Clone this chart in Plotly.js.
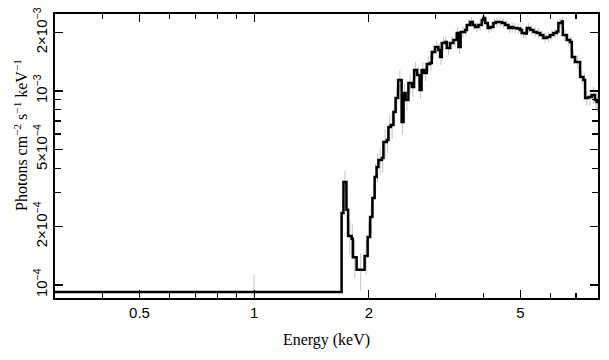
<!DOCTYPE html>
<html>
<head>
<meta charset="utf-8">
<script src="https://cdn.plot.ly/plotly-3.0.1.min.js"></script>
<style>html,body{margin:0;padding:0;background:#fff;}#chart{width:609px;height:360px;}</style>
</head>
<body>
<div id="chart"></div>
<script>
// Bin edges (keV)
var binEdges = [0.30, 1.697, 1.716, 1.747, 1.765, 1.803, 1.816, 1.858, 1.950, 1.986, 2.016, 2.044, 2.072, 2.097, 2.120, 2.164, 2.185, 2.230, 2.252, 2.285, 2.321, 2.352, 2.388, 2.439, 2.468, 2.498, 2.541, 2.594, 2.630, 2.678, 2.719, 2.752, 2.794, 2.840, 2.897, 2.927, 2.986, 3.046, 3.078, 3.109, 3.172, 3.205, 3.269, 3.335, 3.405, 3.438, 3.484, 3.580, 3.617, 3.690, 3.750, 3.803, 3.880, 3.960, 3.999, 4.040, 4.106, 4.164, 4.248, 4.310, 4.378, 4.469, 4.559, 4.651, 4.728, 4.794, 4.893, 4.992, 5.043, 5.145, 5.198, 5.303, 5.410, 5.522, 5.634, 5.747, 5.866, 5.985, 6.105, 6.232, 6.293, 6.423, 6.462, 6.620, 6.754, 6.824, 6.961, 7.175, 7.320, 7.395, 7.544, 7.696, 7.851, 7.933, 7.995];
// Flux per bin (photons cm^-2 s^-1 keV^-1)
var flux = [9.20e-5, 2.35e-4, 3.40e-4, 2.44e-4, 1.79e-4, 1.73e-4, 1.39e-4, 1.20e-4, 1.41e-4, 1.77e-4,
  2.24e-4, 2.81e-4, 3.60e-4, 4.06e-4, 4.41e-4, 4.51e-4, 5.46e-4, 5.59e-4, 6.52e-4, 6.68e-4,
  7.79e-4, 9.20e-4, 1.139e-3, 6.92e-4, 9.77e-4, 8.99e-4, 1.100e-3, 1.049e-3, 1.283e-3, 1.209e-3,
  1.012e-3, 1.283e-3, 1.238e-3, 1.378e-3, 1.394e-3, 1.589e-3, 1.686e-3, 1.627e-3, 1.497e-3, 1.768e-3,
  1.789e-3, 1.666e-3, 1.768e-3, 1.832e-3, 1.991e-3, 1.686e-3, 2.014e-3, 2.063e-3, 2.189e-3, 2.268e-3,
  2.189e-3, 2.138e-3, 2.189e-3, 2.323e-3, 2.378e-3, 2.241e-3, 2.113e-3, 2.138e-3, 2.241e-3, 2.268e-3,
  2.268e-3, 2.241e-3, 2.189e-3, 2.113e-3, 2.138e-3, 2.113e-3, 2.100e-3, 2.063e-3, 1.991e-3, 1.979e-3,
  2.113e-3, 2.063e-3, 2.014e-3, 1.991e-3, 1.944e-3, 1.876e-3, 1.898e-3, 1.944e-3, 1.991e-3, 2.026e-3,
  2.241e-3, 2.281e-3, 1.944e-3, 1.832e-3, 1.789e-3, 1.497e-3, 1.411e-3, 1.181e-3, 1.139e-3, 9.20e-4,
  9.31e-4, 9.54e-4, 8.99e-4, 8.78e-4];
// Relative 1-sigma errors per bin
var relErr = [0.23, 0.18, 0.15, 0.18, 0.20, 0.20, 0.22, 0.22, 0.20, 0.20,
  0.18, 0.17, 0.17, 0.17, 0.16, 0.16, 0.16, 0.15, 0.15, 0.15,
  0.14, 0.13, 0.12, 0.14, 0.12, 0.12, 0.11, 0.11, 0.10, 0.10,
  0.10, 0.10, 0.09, 0.09, 0.09, 0.08, 0.08, 0.08, 0.09, 0.08,
  0.08, 0.08, 0.08, 0.08, 0.07, 0.08, 0.07, 0.07, 0.07, 0.06,
  0.06, 0.06, 0.06, 0.06, 0.06, 0.06, 0.06, 0.06, 0.06, 0.06,
  0.06, 0.06, 0.06, 0.06, 0.06, 0.06, 0.06, 0.06, 0.06, 0.06,
  0.06, 0.06, 0.06, 0.06, 0.06, 0.06, 0.06, 0.06, 0.06, 0.06,
  0.06, 0.06, 0.07, 0.07, 0.07, 0.08, 0.08, 0.08, 0.09, 0.09,
  0.10, 0.10, 0.11, 0.11];

var xTickVals = [0.5, 1, 2, 5];
var xTickText = ['0.5', '1', '2', '5'];
var xMinorVals = [0.3, 0.4, 0.6, 0.7, 0.8, 0.9, 3, 4, 6, 7];
var yTickVals = [1e-4, 2e-4, 5e-4, 1e-3, 2e-3];
var yTickText = ['10<sup>\u22124</sup>', '2\u00d710<sup>\u22124</sup>', '5\u00d710<sup>\u22124</sup>', '10<sup>\u22123</sup>', '2\u00d710<sup>\u22123</sup>'];
var yMinorVals = [3e-4, 4e-4, 6e-4, 7e-4, 8e-4, 9e-4];
var yTitle = 'Photons cm<sup>\u22122</sup> s<sup>\u22121</sup> keV<sup>\u22121</sup>';

var stepX = binEdges.slice();
var stepY = flux.concat([flux[flux.length - 1]]);
var centers = [], errs = [];
for (var i = 0; i < flux.length; i++) {
  centers.push((binEdges[i] + binEdges[i + 1]) / 2);
  errs.push(flux[i] * relErr[i]);
}

var errTrace = {
  x: centers, y: flux, type: 'scatter', mode: 'markers',
  marker: {size: 1, color: 'rgba(0,0,0,0)'},
  error_y: {type: 'data', array: errs, visible: true, color: '#c4c4c4', thickness: 1, width: 0},
  hoverinfo: 'skip', showlegend: false
};
var stepTrace = {
  x: stepX, y: stepY, type: 'scatter', mode: 'lines',
  line: {shape: 'hv', color: '#000', width: 2.5},
  showlegend: false
};

var tickFont = {family: 'Liberation Sans, Arial, sans-serif', size: 15, color: '#000'};
var titleFont = {family: 'Liberation Serif, Times New Roman, serif', size: 16, color: '#000'};

var layout = {
  width: 609, height: 360,
  margin: {l: 55, r: 11, t: 14, b: 62},
  paper_bgcolor: '#fff', plot_bgcolor: '#fff',
  showlegend: false,
  xaxis: {
    type: 'log', range: [Math.log10(0.30), Math.log10(7.995)],
    tickmode: 'array', tickvals: xTickVals, ticktext: xTickText,
    ticks: 'inside', ticklen: 8, tickwidth: 1.3, tickcolor: '#000',
    minor: {tickmode: 'array', tickvals: xMinorVals, ticks: 'inside', ticklen: 5, tickwidth: 1.2, tickcolor: '#000', showgrid: false},
    showline: true, linecolor: '#000', linewidth: 2, mirror: 'ticks',
    showgrid: false, zeroline: false, tickfont: tickFont,
    title: {text: 'Energy (keV)', font: titleFont, standoff: 14}
  },
  yaxis: {
    type: 'log', range: [-4.067, -2.603],
    tickmode: 'array', tickvals: yTickVals, ticktext: yTickText, tickangle: -90,
    ticks: 'inside', ticklen: 8, tickwidth: 1.3, tickcolor: '#000',
    minor: {tickmode: 'array', tickvals: yMinorVals, ticks: 'inside', ticklen: 6, tickwidth: 1.2, tickcolor: '#000', showgrid: false},
    showline: true, linecolor: '#000', linewidth: 2, mirror: 'ticks',
    showgrid: false, zeroline: false, tickfont: tickFont
  },
  annotations: [{
    text: yTitle, font: titleFont, textangle: -90, showarrow: false,
    xref: 'paper', yref: 'paper', x: -0.064, y: 0.575,
    xanchor: 'center', yanchor: 'middle'
  }]
};

Plotly.newPlot('chart', [errTrace, stepTrace], layout, {displayModeBar: false, staticPlot: true});
</script>
</body>
</html>
